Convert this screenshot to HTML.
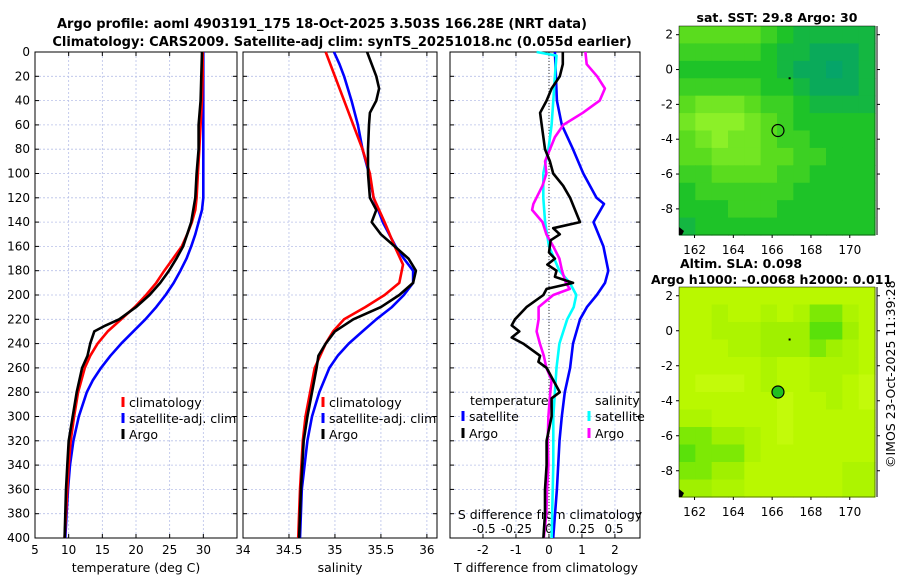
<!DOCTYPE html>
<html><head><meta charset="utf-8"><style>
body{margin:0;background:#fff}
svg{display:block;font-family:"DejaVu Sans","Liberation Sans",sans-serif}
</style></head><body>
<svg id="c" width="900" height="580" viewBox="0 0 900 580"></svg>
<script>
// ---------- data ----------
const tickDepths=[0,20,40,60,80,100,120,140,160,180,200,220,240,260,280,300,320,340,360,380,400];
const tempTicks=[5,10,15,20,25,30,35];
const tempLabels=["5","10","15","20","25","30",""];
const salTicks=[34,34.5,35,35.5,36];
const tdiffTicks=[-2,-1,0,1,2];
const sdiffTicks=[-0.5,-0.25,0,0.25,0.5];
const sdiffLabels=["-0.5","-0.25","0","0.25","0.5"];
const lonTicks=[162,164,166,168,170];
const latTicks=[2,0,-2,-4,-6,-8];

const climTD=[0,20,40,60,80,100,120,130,140,150,160,170,180,190,200,210,220,230,240,250,260,280,300,320,340,360,380,400];
const climT=[29.9,29.9,29.8,29.6,29.4,29.2,29.0,28.8,28.3,27.6,26.8,25.5,24.2,23.0,21.5,19.8,17.8,15.8,14.3,13.2,12.4,11.4,10.8,10.3,10.0,9.8,9.6,9.4];
const satTD=[0,20,40,60,80,100,120,130,140,150,160,170,180,190,200,210,220,230,240,250,260,270,280,300,320,340,360,380,400];
const satT=[30.0,30.0,30.0,30.0,30.0,30.0,30.0,29.8,29.3,28.8,28.2,27.5,26.6,25.6,24.4,23.0,21.4,19.6,17.8,16.2,14.8,13.6,12.7,11.5,10.7,10.2,9.9,9.7,9.5];
const argoTD=[0,20,40,60,80,100,120,140,150,160,170,180,190,200,210,220,225,230,240,250,260,280,300,320,340,360,380,400];
const argoT=[29.8,29.7,29.6,29.3,29.3,29.0,28.8,28.2,27.6,27.0,26.0,24.9,23.6,22.0,20.0,17.5,15.5,13.8,13.2,12.8,12.0,11.2,10.6,10.0,9.8,9.6,9.5,9.4];

const climSD=[0,40,80,100,120,140,160,175,190,200,210,220,230,240,260,280,300,320,360,400];
const climS=[34.9,35.1,35.3,35.38,35.42,35.54,35.65,35.74,35.7,35.54,35.33,35.1,34.98,34.9,34.78,34.73,34.68,34.65,34.62,34.6];
const satSD=[0,10,20,40,60,80,100,120,140,160,170,180,190,200,210,220,230,240,250,260,280,300,320,360,400];
const satS=[34.99,35.05,35.1,35.18,35.25,35.3,35.37,35.42,35.52,35.66,35.75,35.85,35.85,35.75,35.62,35.45,35.3,35.15,35.03,34.94,34.83,34.75,34.7,34.64,34.62];
const argoSD=[0,10,20,30,40,50,60,80,100,120,130,140,150,160,170,180,190,200,210,220,230,240,250,260,280,300,320,360,400];
const argoS=[35.35,35.4,35.45,35.48,35.45,35.38,35.37,35.36,35.36,35.38,35.45,35.4,35.5,35.65,35.8,35.88,35.85,35.7,35.5,35.2,35.0,34.9,34.82,34.8,34.75,34.7,34.66,34.63,34.61];

const dTsatD=[0,40,60,80,100,120,125,140,160,180,190,200,210,220,240,260,280,300,320,360,400];
const dTsat=[0.18,0.24,0.39,0.73,1.04,1.44,1.67,1.35,1.65,1.8,1.7,1.45,1.15,0.94,0.73,0.64,0.48,0.39,0.32,0.24,0.13];
const dTargoD=[0,10,20,30,40,50,60,80,90,100,110,120,140,145,150,155,165,170,175,180,185,190,195,200,210,220,225,230,235,240,250,255,260,270,280,285,300,320,340,360,380,400];
const dTargo=[0.42,0.42,0.33,0.08,-0.07,-0.27,-0.22,-0.12,0.03,0.13,0.43,0.64,0.94,0.13,0.33,0.05,0.0,0.18,-0.05,0.23,0.18,0.73,-0.07,-0.17,-0.68,-1.03,-1.13,-0.9,-1.13,-0.78,-0.27,-0.32,-0.07,0.13,0.33,0.08,0.08,-0.07,-0.07,-0.12,-0.12,-0.17];
const dSsatD=[0,3,20,40,60,80,100,120,140,160,180,190,200,210,220,240,260,280,300,340,400];
const dSsat=[-0.095,0.058,0.045,0.033,0.02,-0.005,-0.044,-0.044,-0.03,0.0,0.08,0.16,0.21,0.19,0.14,0.08,0.058,0.045,0.033,0.033,0.02];
const dSargoD=[0,10,20,30,40,50,60,70,90,100,110,125,130,140,150,160,170,180,190,195,200,210,220,230,240,250,260,270,280,300,320,340,360,380,400];
const dSargo=[0.28,0.29,0.37,0.43,0.39,0.26,0.11,0.045,-0.03,-0.02,-0.05,-0.12,-0.13,-0.05,-0.02,0.033,0.08,0.1,0.13,0.16,0.033,-0.08,-0.08,-0.095,-0.07,-0.04,-0.02,0.02,0.01,-0.005,-0.01,-0.005,-0.015,-0.02,-0.04];

const sstGrid=[
[6,6,6,6,6,5,4,3,3,3,3,3],[5,5,5,5,5,4,3,3,2,2,2,3],[4,4,4,4,4,4,3,2,2,1,2,3],
[5,5,5,5,5,4,4,3,2,2,2,3],[6,7,7,7,6,5,5,4,3,3,3,3],[7,8,8,8,7,6,5,4,4,4,4,4],
[6,7,8,7,7,6,5,5,4,4,4,4],[6,6,7,7,7,6,6,5,5,4,4,4],[5,5,6,6,6,6,5,5,4,4,4,4],
[4,5,5,5,5,5,5,4,4,4,4,4],[4,4,4,5,5,5,4,4,4,4,4,4],[3,4,4,4,4,4,4,4,4,4,4,4]];
const slaGrid=[
[6,6,6,6,6,6,6,6,6,6,6,6],[6,6,5,6,6,5,6,5,3,3,5,6],[6,6,5,5,5,4,4,4,2,2,4,6],
[6,6,6,5,5,4,4,4,3,4,5,6],[6,6,6,6,6,5,6,6,5,5,5,6],[6,7,7,7,6,5,6,6,5,5,6,7],
[6,6,6,6,6,6,7,6,6,5,6,7],[5,5,6,6,6,6,7,6,6,6,6,6],[3,3,4,4,5,6,7,6,6,6,6,6],
[2,3,3,3,5,6,6,6,6,6,6,6],[3,3,4,4,6,6,6,6,6,6,5,5],[4,4,5,5,6,6,6,6,6,6,5,5]];
const argoLon=166.3, argoLat=-3.5;

// ---------- helpers ----------
const NS="http://www.w3.org/2000/svg";
const svg=document.getElementById('c');
function el(tag,attrs,parent){const e=document.createElementNS(NS,tag);for(const k in attrs)e.setAttribute(k,attrs[k]);(parent||svg).appendChild(e);return e;}
function txt(x,y,s,attrs){const e=el('text',Object.assign({x:x,y:y,'font-size':12,fill:'#000'},attrs||{}));e.textContent=s;return e;}

const PT=52,PB=538;
const yD=d=>PT+(PB-PT)*d/400;
const P1={l:35,r:237,min:5,max:35};
const P2={l:243,r:437,min:34,max:36.11};
const P3={l:450,r:640,min:-3,max:2.76};
function xs(p,v){return p.l+(p.r-p.l)*(v-p.min)/(p.max-p.min);}
const xSd=v=>549+130*v;

function frameP(p,name){
  const g=el('g',{});
  
  
  tickDepths.forEach(d=>{el('line',{x1:p.l,x2:p.r,y1:yD(d),y2:yD(d),stroke:'#b8c0e8','stroke-width':0.8,'stroke-dasharray':'2,2'},g);
    el('line',{x1:p.l,x2:p.l+4,y1:yD(d),y2:yD(d),stroke:'#000'},g);el('line',{x1:p.r,x2:p.r-4,y1:yD(d),y2:yD(d),stroke:'#000'},g);});
  return g;
}
function vgrid(g,p,ticks){ticks.forEach(v=>{const x=xs(p,v);el('line',{x1:x,x2:x,y1:PT,y2:PB,stroke:'#b8c0e8','stroke-width':0.8,'stroke-dasharray':'2,2'},g);
  el('line',{x1:x,x2:x,y1:PB,y2:PB-4,stroke:'#000'},g);el('line',{x1:x,x2:x,y1:PT,y2:PT+4,stroke:'#000'},g);});}
function boxP(g,p){el('rect',{x:p.l,y:PT,width:p.r-p.l,height:PB-PT,fill:'none',stroke:'#000','stroke-width':1},g);}
function drawLine(xsArr,ds,fx,color,name,w){
  const pts=xsArr.map((v,i)=>fx(v).toFixed(1)+','+yD(ds[i]).toFixed(1)).join(' ');
  const e=el('polyline',{points:pts,fill:'none',stroke:color,'stroke-width':w||2.6,'stroke-linejoin':'round'});
  
  
  return e;
}
function legendItem(x,y,color,label,name){
  const g=el('g',{});
  
  
  el('line',{x1:x,x2:x,y1:y-10,y2:y,stroke:color,'stroke-width':3},g);
  const t=txt(x+6,y,label,{'font-size':12.5});g.appendChild(t);
}

// titles
const t1=txt(322,28,"Argo profile: aoml 4903191_175 18-Oct-2025 3.503S 166.28E (NRT data)",{'font-weight':'bold','text-anchor':'middle','font-size':13});


const t2=txt(342,46,"Climatology: CARS2009. Satellite-adj clim: synTS_20251018.nc (0.055d earlier)",{'font-weight':'bold','text-anchor':'middle','font-size':13});



// Panel 1
const g1=frameP(P1,'temperature-panel');vgrid(g1,P1,tempTicks);
tickDepths.forEach(d=>{const t=txt(30,yD(d)+4,String(d),{'text-anchor':'end'});});
tempTicks.forEach((v,i)=>{const t=txt(xs(P1,v),554,tempLabels[i],{'text-anchor':'middle'});});
const xl1=txt(136,572,"temperature (deg C)",{'text-anchor':'middle','font-size':12.5});
drawLine(satT,satTD,v=>xs(P1,v),'#0000ff','temp-satellite-line');
drawLine(climT,climTD,v=>xs(P1,v),'#ff0000','temp-climatology-line');
drawLine(argoT,argoTD,v=>xs(P1,v),'#000','temp-argo-line');
boxP(g1,P1);
legendItem(123,407,'#ff0000','climatology','legend-climatology');
legendItem(123,423,'#0000ff','satellite-adj. clim','legend-satellite');
legendItem(123,439,'#000','Argo','legend-argo');

// Panel 2
const g2=frameP(P2,'salinity-panel');vgrid(g2,P2,salTicks);
salTicks.forEach(v=>{const t=txt(xs(P2,v),554,String(v),{'text-anchor':'middle'});});
const xl2=txt(340,572,"salinity",{'text-anchor':'middle','font-size':12.5});
drawLine(satS,satSD,v=>xs(P2,v),'#0000ff','sal-satellite-line');
drawLine(climS,climSD,v=>xs(P2,v),'#ff0000','sal-climatology-line');
drawLine(argoS,argoSD,v=>xs(P2,v),'#000','sal-argo-line');
boxP(g2,P2);
legendItem(323,407,'#ff0000','climatology','legend-climatology-2');
legendItem(323,423,'#0000ff','satellite-adj. clim','legend-satellite-2');
legendItem(323,439,'#000','Argo','legend-argo-2');

// Panel 3
const g3=frameP(P3,'difference-panel');vgrid(g3,P3,tdiffTicks);
el('line',{x1:549,x2:549,y1:PT,y2:PB,stroke:'#333','stroke-width':1,'stroke-dasharray':'1,2'},g3);
tdiffTicks.forEach(v=>{const t=txt(xs(P3,v),554,String(v),{'text-anchor':'middle'});});
sdiffTicks.forEach((v,i)=>{const t=txt(xSd(v),533,sdiffLabels[i],{'text-anchor':'middle'});});
const xl3=txt(546,572,"T difference from climatology",{'text-anchor':'middle','font-size':12.5});
const xl4=txt(550,519,"S difference from climatology",{'text-anchor':'middle','font-size':12.5});
drawLine(dTsat,dTsatD,v=>xs(P3,v),'#0000ff','tdiff-satellite-line');
drawLine(dSsat,dSsatD,xSd,'#00ffff','sdiff-satellite-line');
drawLine(dSargo,dSargoD,xSd,'#ff00ff','sdiff-argo-line');
drawLine(dTargo,dTargoD,v=>xs(P3,v),'#000','tdiff-argo-line');
boxP(g3,P3);
const lt=txt(470,405,"temperature",{'font-size':12.5});
const ls=txt(595,405,"salinity",{'font-size':12.5});
legendItem(463,421,'#0000ff','satellite','legend-t-satellite');
legendItem(463,438,'#000','Argo','legend-t-argo');
legendItem(589,421,'#00ffff','satellite','legend-s-satellite');
legendItem(589,438,'#ff00ff','Argo','legend-s-argo');

// Maps
function lerpColor(a,b,t){return 'rgb('+a.map((v,i)=>Math.round(v+(b[i]-v)*t)).join(',')+')';}
function colorFor(v,stops){const i=Math.min(stops.length-2,Math.floor(v/8*(stops.length-1)));const t=v/8*(stops.length-1)-i;return lerpColor(stops[i],stops[i+1],Math.min(1,t));}
const sstStops=[[0,160,120],[10,170,90],[30,195,40],[90,220,30],[140,240,40]];
const slaStops=[[20,190,20],[90,225,10],[160,240,0],[185,248,0],[205,252,20]];
function drawMap(M,grid,stops,name,filled){
  const g=el('g',{});
  
  
  const lx=lon=>M.l+(M.r-M.l)*(lon-161.2)/(171.3-161.2);
  const ly=lat=>M.t+(M.b-M.t)*(2.5-lat)/12;
  const nr=grid.length,nc=grid[0].length,cw=(M.r-M.l)/nc,ch=(M.b-M.t)/nr;
  grid.forEach((row,r)=>row.forEach((v,c)=>{const e=el('rect',{x:M.l+c*cw,y:M.t+r*ch,width:cw+0.6,height:ch+0.6,fill:colorFor(v,stops)},g);
    }));
  el('rect',{x:M.l,y:M.t,width:M.r-M.l,height:M.b-M.t,fill:'none',stroke:'#000','stroke-width':0.5},g);
  latTicks.forEach(v=>{el('line',{x1:M.l,x2:M.l-3,y1:ly(v),y2:ly(v),stroke:'#000'},g);el('line',{x1:M.r+2,x2:M.r+5,y1:ly(v),y2:ly(v),stroke:'#000'},g);
    const t=txt(M.l-6,ly(v)+4,String(v),{'text-anchor':'end'});g.appendChild(t);});
  lonTicks.forEach(v=>{el('line',{x1:lx(v),x2:lx(v),y1:M.b,y2:M.b+3,stroke:'#000'},g);
    const t=txt(lx(v),M.b+19,String(v),{'text-anchor':'middle'});g.appendChild(t);});
  el('line',{x1:M.r+2,x2:M.r+2,y1:M.t,y2:M.b,stroke:'#000'},g);
  el('rect',{x:lx(166.9)-1,y:ly(-0.5)-1,width:2,height:2,fill:'#000'},g);
  const c=el('circle',{cx:lx(argoLon),cy:ly(argoLat),r:6,fill:filled?'#20c020':'none',stroke:'#000','stroke-width':1.2},g);
  
  
  el('path',{d:`M${M.l} ${M.b-8} l5 4 l-2 4 l-3 0 z`,fill:'#000'},g);
}
drawMap({l:679,r:875,t:26,b:235},sstGrid,sstStops,'sst-map',false);
drawMap({l:679,r:875,t:287,b:497},slaGrid,slaStops,'sla-map',true);
const mt1=txt(777,22,"sat. SST: 29.8 Argo: 30",{'font-weight':'bold','text-anchor':'middle','font-size':12.5});
const mt2=txt(680,268,"Altim. SLA: 0.098",{'font-weight':'bold','font-size':12.5});
const mt3=txt(651,284,"Argo h1000: -0.0068 h2000: 0.011",{'font-weight':'bold','font-size':12.5});
const cr=txt(0,0,"©IMOS 23-Oct-2025 11:39:28",{'font-size':12.5,transform:'translate(895,468) rotate(-90)'});


</script>
</body></html>
